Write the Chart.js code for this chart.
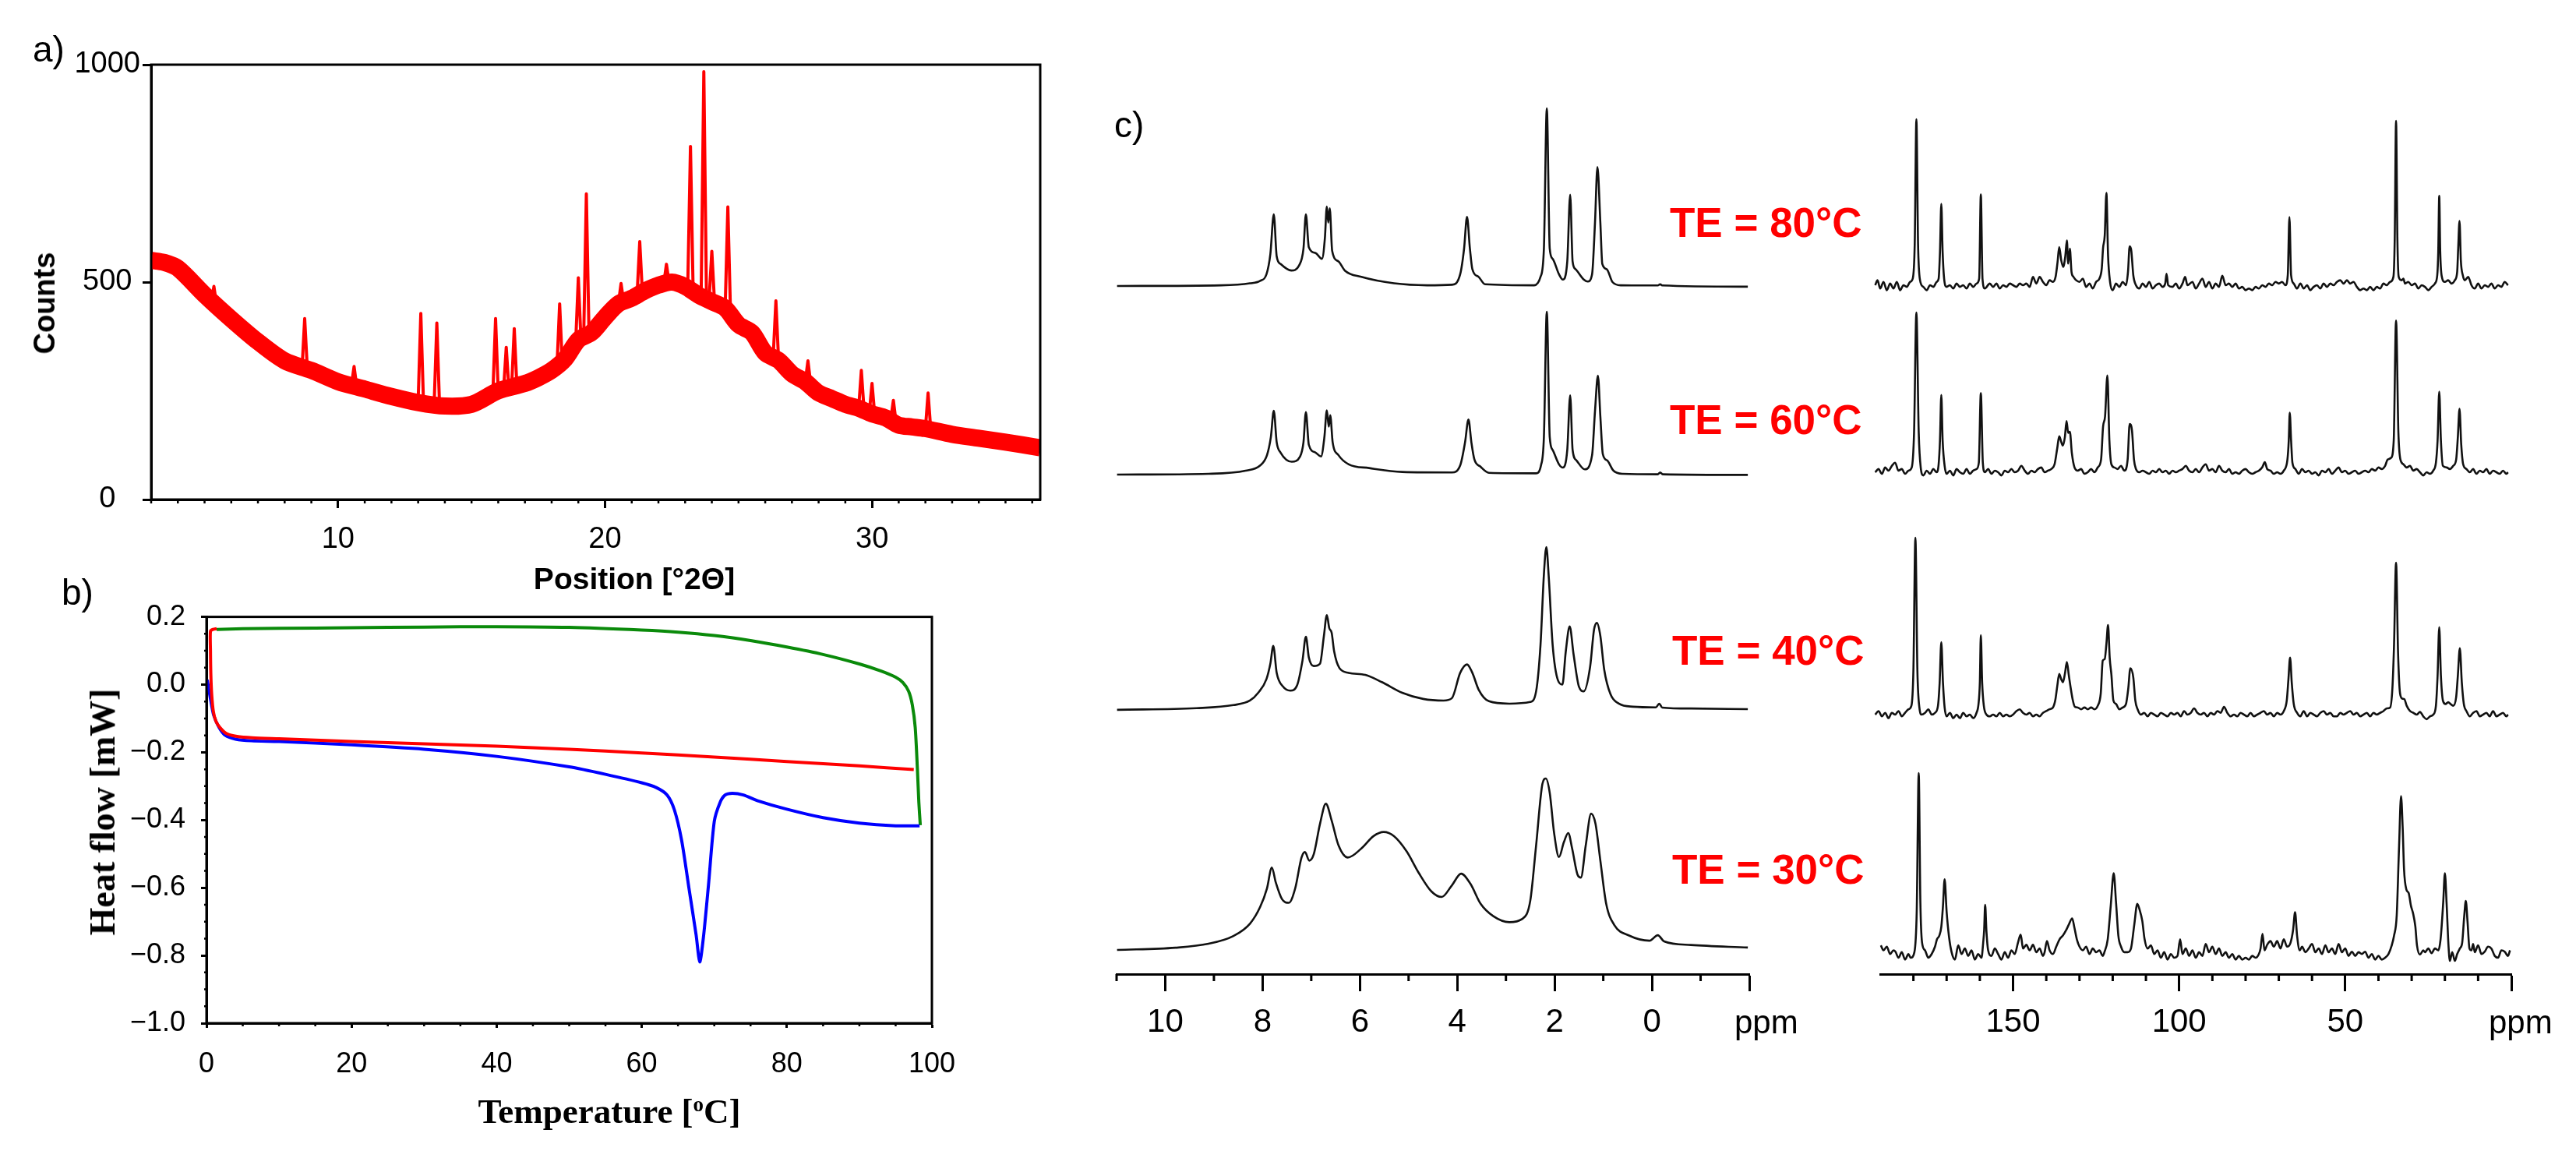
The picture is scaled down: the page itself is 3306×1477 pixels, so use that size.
<!DOCTYPE html>
<html>
<head>
<meta charset="utf-8">
<script src="https://cdn.jsdelivr.net/npm/chart.js@4.4.1/dist/chart.umd.min.js"></script>
<style>
  html, body { margin: 0; padding: 0; background: #fff; }
  body { width: 3306px; height: 1477px; overflow: hidden; position: relative; font-family: 'Liberation Sans', Arial, sans-serif; }
  canvas { position: absolute; }
  .txt { position: absolute; line-height: 1; white-space: nowrap; color: #000; }
  .ctr { transform: translate(-50%, -50%); }
  .rot { transform: translate(-50%, -50%) rotate(-90deg); }
  .te { color: #ff0000; font-weight: bold; font-size: 53px; }
  .serif { font-family: 'Liberation Serif', 'Times New Roman', serif; font-weight: bold; }
</style>
</head>
<body>
<canvas id="xrd" width="1380" height="720" style="left:0px;top:40px"></canvas>
<canvas id="dsc" width="1270" height="690" style="left:0px;top:750px"></canvas>
<canvas id="nmrH" width="880" height="1260" style="left:1400px;top:100px"></canvas>
<canvas id="nmrC" width="880" height="1260" style="left:2380px;top:100px"></canvas>

<div class="txt" style="left:42px;top:40px;font-size:46px">a)</div>
<div class="txt" style="left:79px;top:737px;font-size:46px">b)</div>
<div class="txt" style="left:1430px;top:137px;font-size:46px">c)</div>

<div class="txt ctr" style="left:814px;top:742px;font-size:39px;font-weight:bold">Position [°2Θ]</div>
<div class="txt rot" style="left:57px;top:389px;font-size:38px;font-weight:bold">Counts</div>
<div class="txt ctr serif" style="left:782px;top:1426px;font-size:45px">Temperature [<sup style="font-size:0.6em;vertical-align:0.55em">o</sup>C]</div>
<div class="txt rot serif" style="left:132px;top:1042px;font-size:46px">Heat flow [mW]</div>

<div class="txt te" style="left:2143px;top:259px">TE = 80°C</div>
<div class="txt te" style="left:2143px;top:512px">TE = 60°C</div>
<div class="txt te" style="left:2146px;top:808px">TE = 40°C</div>
<div class="txt te" style="left:2146px;top:1089px">TE = 30°C</div>

<div class="txt" style="left:2226px;top:1291px;font-size:42px">ppm</div>
<div class="txt" style="left:3194px;top:1291px;font-size:42px">ppm</div>

<script>
// ---------- a) XRD ----------
const xrdBackground = [[3,550],[3.5,545],[4,532],[5,471],[6,415],[7,363],[8,319],[9,297],[10,271],[11,254],[12,237],[13,223],[14,215],[15,219],[16,250],[17,267],[17.5,280],[18,297],[18.5,323],[19,367],[19.5,384],[20,419],[20.5,450],[21,463],[21.5,480],[22,493],[22.5,500],[23,490],[23.5,470],[24,455],[24.5,440],[25,402],[25.5,384],[26,337],[26.5,320],[27,289],[27.5,271],[28,245],[28.5,232],[29,219],[29.5,210],[30,197],[30.5,188],[31,171],[31.5,167],[32,163],[33,150],[34,141],[35,132],[36.3,119]];
const xrdTrace = [[3,550],[3.5,545],[4,532],[5,471],[5.25,455],[5.35,490],[5.45,448],[6,415],[7,363],[8,319],[8.65,300],[8.75,416],[8.85,300],[9,297],[10,271],[10.5,262],[10.6,306],[10.7,260],[11,254],[12,237],[13,225],[13.1,428],[13.2,224],[13.6,220],[13.7,406],[13.8,219],[14,215],[15,219],[15.8,245],[15.9,416],[16.0,248],[16.2,252],[16.3,350],[16.4,254],[16.5,256],[16.6,393],[16.7,258],[17,267],[17.5,280],[18,297],[18.2,305],[18.3,450],[18.4,310],[18.5,323],[18.9,360],[19.0,510],[19.1,365],[19.2,370],[19.3,703],[19.4,378],[19.5,384],[20,419],[20.5,450],[20.6,497],[20.7,453],[21,463],[21.2,470],[21.3,593],[21.4,474],[21.5,480],[22,493],[22.2,496],[22.3,541],[22.4,498],[22.5,500],[23,490],[23.1,495],[23.2,812],[23.3,480],[23.5,470],[23.6,468],[23.7,984],[23.8,465],[23.9,462],[24.0,571],[24.1,455],[24.5,440],[24.6,673],[24.7,430],[25,402],[25.5,384],[26,337],[26.3,330],[26.4,457],[26.5,320],[27,289],[27.5,271],[27.6,319],[27.7,268],[28,245],[29,219],[29.5,210],[29.6,297],[29.7,208],[29.9,200],[30.0,267],[30.1,196],[30.5,188],[30.7,183],[30.8,228],[30.9,178],[31,171],[32,163],[32.1,245],[32.2,161],[33,150],[34,141],[35,132],[36.3,119]];
const xrdTicks = { xMin: 3, xMax: 36.3, xStep: 10, yMin: 0, yMax: 1000, yStep: 500 };

// ---------- b) DSC ----------
const dscRed = [[1.4,0.165],[0.9,0.163],[0.55,0.158],[0.55,0.10],[0.6,0.03],[0.72,-0.03],[0.95,-0.08],[1.3,-0.108],[1.9,-0.128],[2.8,-0.145],[4.2,-0.153],[6.3,-0.157],[10,-0.160],[20,-0.168],[30,-0.175],[40,-0.182],[50,-0.191],[60,-0.202],[70,-0.214],[80,-0.227],[90,-0.240],[97.5,-0.251]];
const dscBlue = [[0.1,0.014],[0.5,-0.036],[1.0,-0.091],[1.75,-0.127],[2.6,-0.15],[4.0,-0.161],[6.2,-0.166],[10,-0.168],[20,-0.178],[30,-0.191],[40,-0.212],[50,-0.243],[55,-0.265],[60,-0.29],[62,-0.304],[63.5,-0.326],[64.5,-0.37],[65.5,-0.46],[66.5,-0.60],[67.5,-0.74],[68,-0.819],[68.5,-0.747],[69.2,-0.592],[70,-0.404],[70.8,-0.348],[71.5,-0.326],[72.5,-0.321],[74,-0.326],[76,-0.343],[80,-0.368],[85,-0.393],[90,-0.409],[95,-0.417],[98.3,-0.417]];
const dscGreen = [[1.4,0.163],[5,0.165],[10,0.166],[20,0.168],[30,0.170],[40,0.171],[50,0.169],[60,0.161],[65,0.155],[70,0.145],[75,0.13],[80,0.111],[85,0.089],[90,0.061],[93,0.040],[95,0.022],[96,0.006],[96.8,-0.02],[97.3,-0.06],[97.7,-0.127],[98,-0.249],[98.2,-0.348],[98.4,-0.415]];
const dscTicks = { xMin: 0, xMax: 100, xStep: 20, yMin: -1.0, yMax: 0.2, yStep: 0.2 };

// ---------- c) 1H NMR, intensity relative to tallest peak ----------
const h80 = [[10.99,0],[8.85,0.4],[8.26,1.5],[8.05,2.9],[7.92,6.6],[7.84,18],[7.77,40.3],[7.71,16.7],[7.63,12.4],[7.41,8.7],[7.25,11.6],[7.16,21],[7.11,40.3],[7.05,21.8],[6.91,18.5],[6.78,15.3],[6.72,26.9],[6.68,44.7],[6.65,35.7],[6.62,43.7],[6.57,19.7],[6.44,13.8],[6.31,8.7],[5.97,5.1],[5.30,1.5],[4.62,0.4],[4.11,0.7],[3.94,6.6],[3.86,21],[3.80,38.9],[3.74,21],[3.69,9.5],[3.56,5.1],[3.43,1],[2.42,0.4],[2.29,5.1],[2.22,21],[2.16,100],[2.10,21],[2.04,15.3],[1.91,6.6],[1.83,3.6],[1.74,13.8],[1.68,51.4],[1.63,13.8],[1.57,9.5],[1.40,3.6],[1.32,2.5],[1.23,6.6],[1.17,35.7],[1.12,67],[1.06,35.7],[1.02,12.4],[0.93,9.5],[0.81,2.2],[0.64,0.4],[-0.12,0.3],[-0.17,1],[-0.21,0.3],[-1.97,-0.4]];
const h60 = [[10.99,0],[9.11,0.5],[8.35,2.4],[8.05,5.6],[7.91,11.9],[7.83,23],[7.77,39.2],[7.71,19.8],[7.63,13.5],[7.40,7.9],[7.23,11.1],[7.16,19.8],[7.11,38.4],[7.05,18.3],[6.91,13.5],[6.80,11.1],[6.73,23],[6.68,39.5],[6.64,29.4],[6.61,36.5],[6.56,19.8],[6.44,11.9],[6.23,6.3],[5.81,4],[5.13,1.6],[4.11,1.3],[3.94,5.6],[3.84,19.8],[3.77,33.8],[3.71,19.8],[3.65,9.5],[3.52,4.8],[3.35,1.1],[2.38,0.8],[2.28,5.6],[2.22,23],[2.16,100],[2.10,23],[2.04,15.1],[1.91,6.3],[1.83,4.3],[1.74,15.1],[1.68,48.7],[1.63,15.1],[1.55,8.7],[1.38,3.2],[1.23,11.9],[1.17,38.9],[1.11,60.8],[1.06,35.7],[1.01,12.7],[0.92,8.7],[0.79,2.4],[0.60,0.5],[-0.12,0.2],[-0.17,1.3],[-0.22,0.2],[-1.97,-0.2]];
const h40 = [[10.99,-0.4],[9.36,0.6],[8.60,2.5],[8.26,5.3],[8.09,10.1],[7.92,18.6],[7.84,28.1],[7.78,39],[7.71,22.4],[7.58,13.9],[7.43,11.4],[7.29,14.8],[7.18,30],[7.11,44.7],[7.05,31.9],[6.95,26.6],[6.82,28.1],[6.74,45.2],[6.68,58],[6.63,50],[6.58,47],[6.53,35.7],[6.42,25.3],[6.23,22.4],[5.89,21.1],[5.55,16.7],[5.13,10.1],[4.70,6.3],[4.28,5.3],[4.11,6.8],[3.94,22.4],[3.80,27.6],[3.69,22.4],[3.56,12],[3.35,4.9],[2.93,3.4],[2.50,4.4],[2.38,11],[2.29,39.5],[2.22,83],[2.17,100],[2.12,81.4],[2.04,39.5],[1.93,17.7],[1.84,15.2],[1.77,35.7],[1.69,51],[1.61,33.8],[1.50,13.9],[1.40,11],[1.27,26.2],[1.19,49],[1.13,53.2],[1.06,45.2],[0.98,24.3],[0.85,9.1],[0.68,3.4],[0.39,1.5],[-0.08,1.1],[-0.15,3.4],[-0.21,1],[-0.80,0.4],[-1.97,0]];
const h30 = [[10.99,0],[9.79,1.3],[9.11,3.6],[8.60,8.1],[8.26,15.3],[8.05,25.1],[7.91,35.9],[7.81,48.1],[7.73,39.5],[7.60,29.6],[7.46,27.5],[7.33,35.9],[7.20,53.9],[7.13,57.1],[7.04,52.1],[6.95,55.7],[6.82,73.6],[6.70,85.3],[6.58,75.4],[6.44,61],[6.25,53.9],[5.97,59.2],[5.72,66.4],[5.51,68.8],[5.30,66.4],[5.04,57.5],[4.79,44.9],[4.53,34.1],[4.32,30.9],[4.11,37.7],[3.92,44.5],[3.73,38.6],[3.52,26.9],[3.26,19.7],[2.93,16.2],[2.67,18],[2.50,28.7],[2.38,61],[2.25,96.9],[2.18,100],[2.10,91.6],[2.01,68.2],[1.91,54.2],[1.81,62.8],[1.72,68.2],[1.64,59.2],[1.53,44],[1.46,42.2],[1.36,61],[1.25,79.5],[1.16,73.6],[1.06,52.1],[0.94,26.9],[0.77,14.4],[0.47,8.4],[0.05,5.4],[-0.12,8.6],[-0.25,5],[-0.80,2.9],[-1.97,1.4]];
const hTicks = { min: -2, max: 11, step: 2 };

// ---------- c) 13C NMR, intensity relative to tallest peak ----------
const c80 = [[191.5,0],[190.8,3],[190,-2],[189,2],[188,-3],[187,1],[186,-2],[185,2],[184,-3],[183,0],[182,-1],[181,2],[180.2,4],[179.6,25],[179.1,100],[178.6,25],[178,3],[177,-1],[176,-3],[175,0],[174,-1],[173,2],[172.4,4],[172,20],[171.6,49],[171.2,20],[170.7,3],[170,-1],[169,0],[168,-2],[167,1],[166,-1],[165,0],[164,-2],[163,1],[162,-1],[161,1],[160.2,4],[159.7,54.7],[159.2,4],[158.5,-2],[157,1],[156,-1],[155,1],[154,-2],[153,0],[152,-1],[151,1],[150,0],[149,-1],[148,1],[147,0],[146,1],[145,-1],[144,5],[143,1],[142,5],[141,2],[140,0],[139,3],[138,2],[137.2,5],[136.6,14],[136.1,23],[135.5,15],[134.9,11],[134.3,17],[133.8,27],[133.4,13],[132.9,22],[132.4,8],[131.8,5],[131,3],[130,2],[129,4],[128,-1],[127,1],[126,-2],[125,2],[124,4],[123.3,10],[122.9,22.5],[122.4,30],[121.9,55.6],[121.4,18],[120.8,2],[120,-3],[119,1],[118,-1],[117,2],[116,0],[115.4,8],[114.9,23.4],[114.4,20.7],[113.8,6],[113,0],[112,-2],[111,1],[110,-1],[109,2],[108,-2],[107,0],[106,1],[105,-1],[104.2,1],[103.8,6.9],[103.3,0],[102,-1],[101,1],[100,-2],[99,1],[98.2,5],[97.5,0],[96,2],[95,-2],[94,1],[93,4],[92,-1],[91,2],[90,-2],[89,1],[88,-1],[87,5.7],[86,0],[85,1],[84,-1],[83,1],[82,-2],[81,-1],[80,-3],[79,-2],[78,-3],[77,-1],[76,-2],[75,0],[74,-1],[73,1],[72,0],[71,2],[70,1],[69,2],[68,0],[67.3,6],[66.8,41],[66.3,6],[65.5,1],[64.5,-2],[63.5,1],[62.5,-2],[61.5,0],[60.5,-3],[59.5,-1],[58.5,0],[57.5,-2],[56.5,1],[55.5,-1],[54.5,1],[53.5,0],[52.5,2],[51.5,3],[50.5,1],[49.5,3],[48.5,1],[47.5,2],[46.5,-1],[45.5,-3],[44.5,-2],[43.5,-3],[42.5,-1],[41.5,-3],[40.5,-1],[39.5,-2],[38.5,1],[37.5,0],[36.5,2],[35.5,5],[35.1,28],[34.7,99],[34.3,28],[33.9,5],[33,3],[32.5,4],[32,1],[31,2],[30,0],[29,1],[28,-2],[27,0],[26,-1],[25,-3],[24,-1],[23,1],[22.3,6],[22,20],[21.7,53.8],[21.4,20],[21,6],[20,2],[19,3],[18,1],[17,3],[16.3,8],[16,22],[15.6,38.7],[15.2,15],[14.6,6],[14,3],[13,5],[12.5,3],[12,0],[11,-2],[10,1],[9,-2],[8,0],[7,-1],[6,1],[5,-2],[4,0],[3,-1],[2,2],[1,0]];
const c60 = [[191.5,0],[190.5,2],[189.5,-1],[188.5,3],[187.5,1],[186.5,4],[185.5,6],[184.5,1],[183.5,2],[182.5,-1],[181.5,1],[180.5,3],[179.8,25],[179.1,100],[178.4,25],[177.8,3],[177,-2],[176,1],[175,-1],[174,2],[173,0],[172.4,5],[172,20],[171.6,48.4],[171.2,20],[170.6,4],[170,-1],[169,1],[168,-2],[167,2],[166,0],[165,-1],[164,2],[163,-1],[162,1],[161,2],[160.3,6],[159.7,49.5],[159.1,6],[158.5,0],[157.5,2],[156.5,-1],[155.5,1],[154.5,0],[153.5,-2],[152.5,1],[151.5,0],[150.5,2],[149.5,0],[148.5,1],[147.5,4],[146.5,1],[145.5,-1],[144.5,1],[143.5,0],[142.5,2],[141.5,3],[140.5,0],[139.5,1],[138.5,2],[137.5,5],[136.7,15],[136.1,22.5],[135.5,19],[135,16.7],[134.4,22],[133.9,32],[133.4,24.6],[132.9,25.4],[132.3,12],[131.5,3],[130.5,1],[129.5,2],[128.5,-1],[127.5,0],[126.5,2],[125.5,0],[124.5,3],[123.5,8],[122.9,28.6],[122.3,35],[121.6,60.6],[121,20],[120.4,5],[119.5,3],[118.5,2],[117.5,4],[116.5,1],[115.5,8],[114.9,30.2],[114.2,26.2],[113.6,8],[113,2],[112,0],[111,1],[110,0],[109,-1],[108,1],[107,0],[106,2],[105,0],[104,1],[103,-1],[102,1],[101,0],[100,1],[99,2],[98,4],[97,1],[96,0],[95,2],[94,0],[93,3],[92,5],[91,1],[90,2],[89,0],[88,4],[87,1],[86,0],[85,2],[84,-1],[83,0],[82,-1],[81,1],[80,2],[79,0],[78,-1],[77,0],[76,1],[75,3],[74.2,6.3],[73.5,2],[72.5,1],[71.5,-1],[70.5,0],[69.5,-1],[68.5,1],[67.4,8],[67,20],[66.7,37.3],[66.3,20],[65.9,6],[65,2],[64,-1],[63,2],[62,0],[61,1],[60,-1],[59,0],[58,-2],[57,1],[56,0],[55,2],[54,-1],[53,1],[52,3],[51,0],[50,1],[49,-1],[48,0],[47,1],[46,-1],[45,0],[44,1],[43,0],[42,2],[41,1],[40,3],[39,2],[38,4],[37.2,8],[36.2,9],[35.4,20],[34.7,95],[34,25],[33.4,8],[32.5,5],[31.5,3],[30.5,4],[29.5,1],[28.5,2],[27.5,0],[26.5,-2],[25.5,0],[24.5,-1],[23.5,1],[22.7,6],[22.2,20],[21.7,50.5],[21.2,20],[20.6,4],[19.5,3],[18.5,2],[17.5,4],[16.6,8],[16.1,22],[15.6,39.7],[15.1,18],[14.5,5],[13.5,2],[12.5,0],[11.5,2],[10.5,-1],[9.5,1],[8.5,0],[7.5,2],[6.5,-1],[5.5,1],[4.5,0],[3.5,-1],[2.5,1],[1.5,-1],[1,0]];
const c40 = [[191.5,0],[190.5,2],[189.5,-1],[188.5,1],[187.5,-2],[186.5,1],[185.5,0],[184.5,2],[183.5,-1],[182.5,1],[181.5,3],[180.6,5],[180,25],[179.4,100],[178.8,25],[178.2,4],[177.5,0],[176.5,1],[175.5,3],[174.5,0],[173.5,1],[172.6,5],[172.1,18],[171.6,41],[171.1,18],[170.6,4],[170,-1],[169,1],[168,-2],[167,0],[166,-2],[165,1],[164,-1],[163,0],[162,-2],[161,1],[160.4,6],[160,18],[159.7,44.9],[159.3,18],[158.8,5],[158,0],[157,-1],[156,0],[155,-1],[154,1],[153,-1],[152,0],[151,-1],[150,0],[149,2],[148,3],[147,1],[146,0],[145,1],[144,-1],[143,0],[142,-1],[141,1],[140,2],[139,3],[138,4],[137.3,8],[136.7,16],[136.1,23],[135.5,20],[135,18.3],[134.4,23],[133.8,29.7],[133.2,22],[132.7,15.7],[132,8],[131.4,4.4],[130.5,4],[129.5,3],[128.5,4],[127.5,3],[126.5,4],[125.5,3],[124.5,5],[123.6,12],[123,30.5],[122.4,31.4],[121.9,40],[121.4,50.6],[120.9,32],[120.4,22.7],[119.8,8],[119,6],[118,3],[117,4],[116,6],[115.3,15],[114.7,26.2],[113.8,21],[113.2,8],[112.5,3],[111.5,0],[110.5,1],[109.5,-1],[108.5,1],[107.5,0],[106.5,-1],[105.5,1],[104.5,0],[103.5,-1],[102.5,1],[101.5,0],[100.5,1],[99.5,-1],[98.5,2],[97.5,0],[96.5,1],[95.5,3.5],[94.5,1],[93.5,0],[92.5,1],[91.5,-1],[90.5,1],[89.5,0],[88.5,2],[87.5,1],[86.5,4.4],[85.5,1],[84.5,-1],[83.5,0],[82.5,-1],[81.5,1],[80.5,0],[79.5,-1],[78.5,1],[77.5,-1],[76.5,0],[75.5,1],[74.5,2],[73.5,0],[72.5,1],[71.5,-1],[70.5,1],[69.5,0],[68.5,2],[67.6,8],[67.1,20],[66.6,32.3],[66.1,18],[65.5,6],[64.5,1],[63.5,-1],[62.5,2],[61.5,-1],[60.5,1],[59.5,0],[58.5,-1],[57.5,1],[56.5,2],[55.5,0],[54.5,1],[53.5,-1],[52.5,-1],[51.5,1],[50.5,0],[49.5,1],[48.5,2],[47.5,0],[46.5,1],[45.5,-1],[44.5,0],[43.5,1],[42.5,-1],[41.5,1],[40.5,0],[39.5,1],[38.5,2],[37.5,3.5],[36.5,4],[35.8,15],[35.3,40],[34.7,85.9],[34.1,35],[33.5,12],[32.8,9],[32.2,8.7],[31.5,5],[30.5,2],[29.5,1],[28.5,0],[27.5,1.5],[26.5,-1],[25.5,-2.6],[24.5,-1],[23.5,0],[22.7,5],[22.2,22],[21.7,49.4],[21.2,22],[20.6,8],[19.8,6],[19,7],[18.3,6],[17.5,5],[16.6,10],[16.1,22],[15.5,37.5],[14.9,18],[14.3,6],[13.5,2],[12.5,-1],[11.5,1],[10.5,2],[9.5,-1],[8.5,0],[7.5,1],[6.5,-1],[5.5,2],[4.5,-1],[3.5,0],[2.5,1],[1.5,-1],[1,0]];
const c30 = [[189.8,6.7],[189,4],[188,6],[187,2],[186,4],[185.4,3.3],[184.5,0],[183.5,3],[182.5,-1],[181.5,2],[180.8,0],[179.7,3],[179,25],[178.4,100],[177.9,30],[177.4,8.3],[176.5,4],[175.5,0],[174.5,2],[173.5,6],[172.9,10],[172.2,12],[171.6,16.7],[171.1,28],[170.6,42.5],[170,25],[169.3,11.7],[168.5,3],[167.5,-1],[166.5,6.7],[165.5,2],[164.5,5],[163.5,1],[162.5,4],[161.5,-1],[160.5,2],[159.5,0],[159,8],[158.7,15],[158.4,28.7],[158,14],[157.5,4],[156.5,1],[155.5,5],[154.5,2],[153.5,-1],[152.5,3],[151.5,0],[150.5,4],[149.5,2],[148.5,8.3],[147.7,12.5],[147,5],[146,7],[145,4],[144,7],[143,3],[142,5],[141,1],[140.5,3],[139.8,9],[139,4],[138,2],[137,6],[136,10],[135,12],[134,15],[133.2,18],[132.2,21.3],[131.5,16],[130.8,10],[130,6],[129,4],[128,6],[127,2],[126,5],[125,3],[124,4],[123,1],[122.5,3],[121.5,10],[120.6,28],[119.7,45.8],[119,30],[118.3,12],[117.5,6],[116.5,3],[115.5,3],[114.5,5],[113.5,18],[112.6,29.2],[111.9,26],[111.1,20],[110.4,10],[109.5,5],[108.5,6.7],[107.5,2],[106.5,4],[105.5,0],[104.5,3],[103.5,-1],[102.5,2],[101.5,0],[100.5,1],[99.7,10],[99,2],[98,5],[97,1],[96,4],[95,0],[94,3],[93,1],[92,7.5],[91,3],[90,6],[89,2],[88,5],[87,1],[86,3],[85,0],[84,2],[83,-1],[82,1],[81,-1],[80,0],[79,-1],[78,1],[77,0],[76,2],[75.5,5],[74.9,13],[74.3,4],[73.5,7],[72.5,9],[71.5,6],[70.5,9],[69.5,5],[68.5,10],[67.5,6],[66.5,8],[65.7,15],[65.1,24.7],[64.5,12],[63.7,4],[63,6],[62,3],[61,5],[60,7.5],[59,3],[58,5],[57,2],[56,6.7],[55,3],[54,5],[53,2],[52,7.5],[51,3],[50,5],[49,1],[48,3.3],[47,1],[46,3],[45,2],[44,3.3],[43,0],[42,2],[41,-1],[40,1],[39,-1],[38,0],[37,2],[36,6.7],[35.3,12],[34.5,23],[33.8,60],[33.2,87.5],[32.7,70],[32.3,48],[31.6,37],[30.9,35],[30.2,28],[29.6,24.2],[28.9,17],[28.4,6.7],[27.5,1.7],[26.5,4],[26,3],[25,5],[24,2.5],[23,5],[22,4],[21.3,10],[20.5,30],[20,45.8],[19.5,30],[18.9,6],[18.5,-1.7],[17.8,3],[17,-1.7],[16.3,2],[15.5,5],[14.8,8],[14.2,22],[13.7,30.8],[13.2,20],[12.6,5],[12,4],[11.5,7.5],[11,3],[10,6.7],[9,2],[8,3.3],[7,6],[6,5],[5,1],[4,0],[3,4],[2,3.3],[1,1],[0.4,4]];
const cTicks = { min: 0, max: 190, step: 50 };

// ---------- layout (page pixels) ----------
const SANS = "'Liberation Sans', Arial, sans-serif";
const hBaseline = [367, 609, 910, 1219], hPeakTop = [139, 400, 702, 999];
const cBaseline = [366, 606, 917, 1229], cPeakTop = [153, 401, 690, 992];
const nmrArea = { t: 100, b: 1250 };

Chart.defaults.color = '#000';
Chart.defaults.font.family = SANS;

const pts = arr => arr.map(([x, y]) => ({ x, y }));

// box outline around the plot area
const framePlugin = {
  id: 'frame',
  afterDraw(chart, args, opts) {
    if (!opts.show) return;
    const { ctx, chartArea: a } = chart;
    ctx.save();
    ctx.strokeStyle = '#000';
    ctx.lineWidth = opts.width || 3;
    ctx.strokeRect(a.left, a.top, a.right - a.left, a.bottom - a.top);
    ctx.restore();
  }
};

// short unlabelled ticks between the major ones
const minorPlugin = {
  id: 'minorTicks',
  afterDraw(chart, args, opts) {
    const ctx = chart.ctx;
    ctx.save();
    ctx.strokeStyle = '#000';
    ctx.lineWidth = opts.width || 3;
    (opts.axes || []).forEach(a => {
      const sc = chart.scales[a.id];
      const n = Math.round((a.to - a.from) / a.step);
      ctx.beginPath();
      for (let i = 0; i <= n; i++) {
        const v = a.from + i * a.step;
        if (a.skip && Math.abs(v / a.skip - Math.round(v / a.skip)) < 1e-6) continue;
        const p = sc.getPixelForValue(v);
        if (sc.isHorizontal()) { ctx.moveTo(p, sc.top); ctx.lineTo(p, sc.top + a.len); }
        else { ctx.moveTo(sc.right, p); ctx.lineTo(sc.right - a.len, p); }
      }
      ctx.stroke();
    });
    ctx.restore();
  }
};

function baseOptions(padding) {
  return {
    responsive: false, animation: false, devicePixelRatio: 1, events: [],
    layout: { padding },
    plugins: { legend: { display: false }, tooltip: { enabled: false }, title: { display: false } },
    elements: { point: { radius: 0 } }
  };
}

function axisStyle(tickLength) {
  return {
    border: { display: true, color: '#000', width: 3 },
    grid: { display: true, drawOnChartArea: false, drawTicks: true, color: '#000', tickLength, tickWidth: 3 }
  };
}

// ---------- a) ----------
(() => {
  const opt = baseOptions({ left: 60, top: 43, right: 45, bottom: 44 });
  opt.plugins.frame = { show: true, width: 3 };
  opt.plugins.minorTicks = { width: 2.5, axes: [{ id: 'x', from: 3, to: 36, step: 1, skip: 10, len: 5 }] };
  opt.scales = {
    x: Object.assign(axisStyle(11), {
      type: 'linear', min: xrdTicks.xMin, max: xrdTicks.xMax,
      afterFit: s => { s.height = 75; },
      ticks: { stepSize: xrdTicks.xStep, includeBounds: false, padding: 18, maxRotation: 0, autoSkip: false, font: { size: 38 }, callback: v => String(v) }
    }),
    y: Object.assign(axisStyle(11), {
      type: 'linear', min: xrdTicks.yMin, max: xrdTicks.yMax,
      afterFit: s => { s.width = 134; },
      ticks: { stepSize: xrdTicks.yStep, padding: 3, crossAlign: 'center', font: { size: 38 }, callback: v => String(v) }
    })
  };
  new Chart(document.getElementById('xrd'), {
    type: 'line',
    data: { datasets: [
      { data: pts(xrdBackground), borderColor: '#ff0000', borderWidth: 22, tension: 0.3, borderJoinStyle: 'round', borderCapStyle: 'butt' },
      { data: pts(xrdTrace), borderColor: '#ff0000', borderWidth: 4, tension: 0, borderJoinStyle: 'round' }
    ] },
    options: opt,
    plugins: [framePlugin, minorPlugin]
  });
})();

// ---------- b) ----------
(() => {
  const opt = baseOptions({ left: 150, top: 27, right: 74, bottom: 52 });
  opt.plugins.frame = { show: true, width: 3 };
  opt.plugins.minorTicks = { width: 2.5, axes: [
    { id: 'x', from: 0, to: 100, step: 5, skip: 20, len: 4 },
    { id: 'y', from: -1, to: 0.2, step: 0.05, skip: 0.2, len: 3 }
  ] };
  opt.scales = {
    x: Object.assign(axisStyle(6), {
      type: 'linear', min: dscTicks.xMin, max: dscTicks.xMax,
      afterFit: s => { s.height = 75; },
      ticks: { stepSize: dscTicks.xStep, padding: 25, maxRotation: 0, autoSkip: false, font: { size: 36 } }
    }),
    y: Object.assign(axisStyle(7), {
      type: 'linear', min: dscTicks.yMin, max: dscTicks.yMax,
      afterFit: s => { s.width = 115; },
      ticks: {
        stepSize: dscTicks.yStep, padding: 20, font: { size: 36 },
        callback: v => (Math.abs(v) < 1e-9 ? '0.0' : v.toFixed(1).replace('-', '\u2212'))
      }
    })
  };
  new Chart(document.getElementById('dsc'), {
    type: 'line',
    data: { datasets: [
      { data: pts(dscRed), borderColor: '#ff0000', borderWidth: 4, tension: 0.25 },
      { data: pts(dscBlue), borderColor: '#0000ff', borderWidth: 4, tension: 0.25 },
      { data: pts(dscGreen), borderColor: '#0a8a0a', borderWidth: 4, tension: 0.25 }
    ] },
    options: opt,
    plugins: [framePlugin, minorPlugin]
  });
})();

// ---------- c) stacked spectra ----------
function stackAxes(base, top) {
  const axes = {};
  base.forEach((b, i) => {
    const s = (b - top[i]) / 100;
    axes['y' + i] = { type: 'linear', display: false, min: (b - nmrArea.b) / s, max: (b - nmrArea.t) / s };
  });
  return axes;
}

function nmrChart(id, series, base, top, ticksCfg, padding, minor, blankAt) {
  const opt = baseOptions(padding);
  opt.plugins.minorTicks = { width: 3, axes: [minor] };
  opt.scales = Object.assign({
    x: Object.assign(axisStyle(22), {
      type: 'linear', reverse: true, min: ticksCfg.min, max: ticksCfg.max,
      afterFit: s => { s.height = 88; },
      ticks: {
        stepSize: ticksCfg.step, includeBounds: false, padding: 15, maxRotation: 0, autoSkip: false,
        font: { size: 42 }, callback: v => (v === blankAt ? '' : String(v))
      }
    })
  }, stackAxes(base, top));
  new Chart(document.getElementById(id), {
    type: 'line',
    data: { datasets: series.map((s, i) => ({
      data: pts(s), yAxisID: 'y' + i, borderColor: '#111', borderWidth: 2.6,
      cubicInterpolationMode: 'monotone', clip: false
    })) },
    options: opt,
    plugins: [minorPlugin]
  });
}

nmrChart('nmrH', [h80, h60, h40, h30], hBaseline, hPeakTop, hTicks,
  { left: 33, top: 0, right: 35, bottom: 22 },
  { id: 'x', from: -1, to: 11, step: 2, len: 9 }, -2);

nmrChart('nmrC', [c80, c60, c40, c30], cBaseline, cPeakTop, cTicks,
  { left: 33, top: 0, right: 37, bottom: 22 },
  { id: 'x', from: 10, to: 180, step: 10, skip: 50, len: 9 }, 0);
</script>
</body>
</html>
